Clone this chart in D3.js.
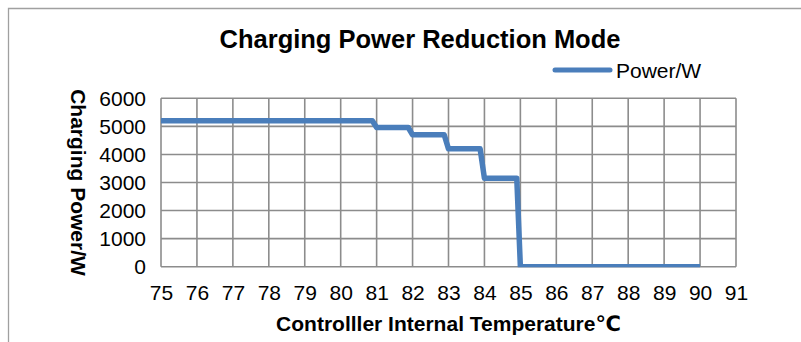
<!DOCTYPE html>
<html>
<head>
<meta charset="utf-8">
<script src="https://cdn.jsdelivr.net/npm/d3@7"></script>
<style>
  html, body { margin: 0; padding: 0; background: #fff; }
  svg { display: block; }
  text { font-family: "Liberation Sans", Arial, "DejaVu Sans", sans-serif; fill: #000; }
</style>
</head>
<body>
<svg id="chart" width="801" height="342"></svg>
<script>
// Charging power versus controller internal temperature (derating curve)
const temperature = [75, 80.88, 81, 81.88, 82, 82.88, 83, 83.88, 84, 84.9, 85, 90];
const powerW      = [5200, 5200, 4960, 4960, 4700, 4700, 4200, 4200, 3150, 3150, 0, 0];
const xTicks = d3.range(75, 92, 1);
const yTicks = [0, 1000, 2000, 3000, 4000, 5000, 6000];
const chartTitle = "Charging Power Reduction Mode";
const seriesName = "Power/W";
const xTitle = "Controlller Internal Temperature\u2103";
const yTitle = "Charging Power/W";

const svg = d3.select("#chart");
const plot = { left: 161, right: 736, top: 98.3, bottom: 266.7 };

const x = d3.scaleLinear().domain([75, 91]).range([plot.left, plot.right]);
const y = d3.scaleLinear().domain([0, 6000]).range([plot.bottom, plot.top]);

const gridColor = "#8c8c8c";
const lineColor = "#4a7ebb";

// outer frame (top and left edges)
svg.append("path")
  .attr("d", "M8.5,342 V8.5 H801")
  .attr("fill", "none").attr("stroke", "#a0a0a0").attr("stroke-width", 1.3);

// title
svg.append("text")
  .attr("x", 420).attr("y", 48)
  .attr("text-anchor", "middle")
  .style("font-weight", "bold").style("font-size", "25.5px")
  .text(chartTitle);

// legend
svg.append("line")
  .attr("x1", 555).attr("x2", 610).attr("y1", 70).attr("y2", 70)
  .attr("stroke", lineColor).attr("stroke-width", 5).attr("stroke-linecap", "round");
svg.append("text")
  .attr("x", 616).attr("y", 78)
  .style("font-size", "21px")
  .text(seriesName);

// gridlines
const grid = svg.append("g");
grid.selectAll("line.v").data(xTicks).join("line")
  .attr("class", "v")
  .attr("x1", d => x(d)).attr("x2", d => x(d))
  .attr("y1", plot.top).attr("y2", plot.bottom)
  .attr("stroke", gridColor).attr("stroke-width", 1.6);
grid.selectAll("line.h").data(yTicks).join("line")
  .attr("class", "h")
  .attr("x1", plot.left).attr("x2", plot.right)
  .attr("y1", d => y(d)).attr("y2", d => y(d))
  .attr("stroke", gridColor).attr("stroke-width", 1.6);

// y axis labels
const yAxis = svg.append("g")
  .attr("transform", `translate(${plot.left},0)`)
  .call(d3.axisLeft(y).tickValues(yTicks).tickSize(0).tickPadding(15).tickFormat(d3.format("d")));
yAxis.select(".domain").remove();
yAxis.selectAll("text").style("font-size", "21px").attr("fill", "#000");

// x axis labels
const xAxis = svg.append("g")
  .attr("transform", `translate(0,${plot.bottom})`)
  .call(d3.axisBottom(x).tickValues(xTicks).tickSize(0).tickPadding(18).tickFormat(d3.format("d")));
xAxis.select(".domain").remove();
xAxis.selectAll("text").style("font-size", "21px").attr("fill", "#000");

// axis titles
svg.append("text")
  .attr("x", (plot.left + plot.right) / 2).attr("y", 331)
  .attr("text-anchor", "middle")
  .style("font-weight", "bold").style("font-size", "21px")
  .text(xTitle);
svg.append("text")
  .attr("transform", `translate(71,${(plot.top + plot.bottom) / 2}) rotate(90)`)
  .attr("text-anchor", "middle")
  .style("font-weight", "bold").style("font-size", "21px")
  .text(yTitle);

// series line, clipped at the bottom of the plot area
svg.append("clipPath").attr("id", "plotClip")
  .append("rect")
  .attr("x", plot.left - 10).attr("y", plot.top - 20)
  .attr("width", plot.right - plot.left + 20)
  .attr("height", plot.bottom - plot.top + 20.5);

const pts = temperature.map((t, i) => [t, powerW[i]]);
svg.append("path")
  .datum(pts)
  .attr("clip-path", "url(#plotClip)")
  .attr("fill", "none")
  .attr("stroke", lineColor)
  .attr("stroke-width", 5.5)
  .attr("stroke-linejoin", "round")
  .attr("d", d3.line().x(d => x(d[0])).y(d => y(d[1])));
</script>
</body>
</html>
